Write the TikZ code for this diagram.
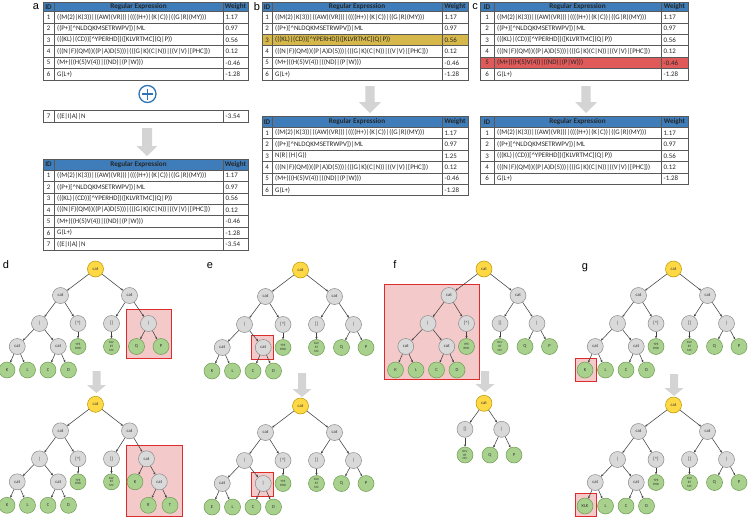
\documentclass[tikz,border=0pt]{standalone}
\usepackage{fontspec}
\setmainfont{Carlito}
\newfontfamily\lblfont{Liberation Sans}
\usetikzlibrary{arrows.meta}
\definecolor{hdr}{HTML}{3F7DBA}
\definecolor{tl}{HTML}{595959}
\definecolor{hlY}{HTML}{D6B84A}
\definecolor{hlR}{HTML}{E05A5A}
\definecolor{gfill}{HTML}{D9D9D9}
\definecolor{gdraw}{HTML}{8C8C8C}
\definecolor{lfill}{HTML}{A9D18E}
\definecolor{ldraw}{HTML}{6F9A52}
\definecolor{yfill}{HTML}{FFD845}
\definecolor{ydraw}{HTML}{B89500}
\definecolor{rbox}{HTML}{DC2C2C}
\definecolor{rfill}{HTML}{F3C9C9}
\definecolor{arr}{HTML}{D4D4D4}
\definecolor{plusc}{HTML}{2E75B6}
\newcommand\reA{((M(2)|K(3))|((AW)(VR)))|((((H+)|(K|C))|((G|R)(MY)))}
\newcommand\reB{((P+)[\textasciicircum NLDQKMSETRWPV])|ML}
\newcommand\reC{(((KL)|(CD))[\textasciicircum YPERHD])([KLVRTMC](Q|P))}
\newcommand\reD{(((N|F)(QM))((P|A)D(5)))|(((G|K)(C|N))|((V|V)|[PHC]))}
\newcommand\reE{(M+)((H(5)V(4))|((ND)|(P|W)))}
\newcommand\reF{G(L+)}
\newcommand\reG{((E|I)A)|N}
\newcommand\reH{N(R|(H|G))}
\tikzset{
 tline/.style={draw=tl, line width=0.5pt},
 hcell/.style={inner sep=0pt, font=\fontsize{7.2}{7.5}\selectfont\bfseries, text=black!85},
 tcell/.style={inner sep=0pt, anchor=west, font=\fontsize{6.9}{7.2}\selectfont, text=black!85},
 icell/.style={inner sep=0pt, font=\fontsize{6.9}{7.2}\selectfont, text=black!85},
 tnode/.style={circle, minimum size=16pt, inner sep=0pt, line width=0.5pt, font=\fontsize{4.6}{5}\selectfont, align=center, text=black!80},
 gn/.style={tnode, fill=gfill, draw=gdraw},
 lf/.style={tnode, fill=lfill, draw=ldraw},
 rt/.style={tnode, fill=yfill, draw=ydraw},
 tinyt/.style={font=\fontsize{3.3}{3.6}\selectfont},
 ed/.style={draw=black!75, line width=0.55pt, -{Stealth[length=2.4pt,width=2.2pt]}},
 redbox/.style={draw=rbox, fill=rfill, line width=0.9pt},
 garr/.style={fill=arr},
 plbl/.style={font=\lblfont\fontsize{11}{12}\selectfont, inner sep=0pt},
}
\newcommand\thead[3]{%
 \draw[tline,fill=hdr] (\xa,#2) rectangle (\xd,#3);
 \draw[tline] (\xb,#2) -- (\xb,#3) (\xc,#2) -- (\xc,#3);
 \node[hcell] (#1i) at ({(\xa+\xb)/2},{(#2+#3)/2}) {ID};
 \node[hcell] (#1r) at ({(\xb+\xc)/2},{(#2+#3)/2}) {Regular Expression};
 \node[hcell] (#1w) at ({(\xc+\xd)/2},{(#2+#3)/2}) {Weight};}
\newcommand\trow[6]{%
 \draw[tline,fill=#6] (\xa,#2) rectangle (\xd,{#2+\rh});
 \draw[tline] (\xb,#2) -- (\xb,{#2+\rh}) (\xc,#2) -- (\xc,{#2+\rh});
 \node[icell] (#1i) at ({(\xa+\xb)/2},{#2+\rh/2}) {#3};
 \node[tcell] (#1r) at ({\xb+3},{#2+\rh/2}) {#4};
 \node[tcell] (#1w) at ({\xc+2.5},{#2+\rh/2}) {#5};}
\newcommand\garrow[6]{%
 \fill[garr] ({#1-#4},#2) -- ({#1+#4},#2) -- ({#1+#4},{#3-#6}) -- ({#1+#5},{#3-#6}) -- (#1,#3) -- ({#1-#5},{#3-#6}) -- ({#1-#4},{#3-#6}) -- cycle;}
\newcommand\lefttree[2]{%
 \node[gn] (a) at (-35,26.5) {cat};
 \node[gn] (a1) at (-56,54.5) {|};
 \node[gn] (a2) at (-17.5,54.5) {[\textasciicircum]};
 \node[gn] (a11) at (-78.25,77.5) {cat};
 \node[gn] (a12) at (-37.25,77.5) {#2};
 \node[lf,tinyt] (a21) at (-17.5,77.5) {YPE\\RHD};
 \node[lf] (a111) at (-88.5,101) {#1};
 \node[lf] (a112) at (-68,101) {L};
 \node[lf] (a121) at (-47.5,101) {C};
 \node[lf] (a122) at (-27,101) {D};
 \draw[ed] (r) -- (a);
 \draw[ed] (a) -- (a1);
 \draw[ed] (a) -- (a2);
 \draw[ed] (a1) -- (a11);
 \draw[ed] (a1) -- (a12);
 \draw[ed] (a2) -- (a21);
 \draw[ed] (a11) -- (a111);
 \draw[ed] (a11) -- (a112);
 \draw[ed] (a12) -- (a121);
 \draw[ed] (a12) -- (a122);}
\newcommand\righttree{%
 \node[gn] (b) at (34,26.5) {cat};
 \node[gn] (b1) at (16,54.5) {[]};
 \node[gn] (b2) at (53,54.5) {|};
 \node[lf,tinyt] (b11) at (16,77.5) {KLV\\RT\\MC};
 \node[lf] (b21) at (41,77.5) {Q};
 \node[lf] (b22) at (65.5,77.5) {P};
 \draw[ed] (r) -- (b);
 \draw[ed] (b) -- (b1);
 \draw[ed] (b) -- (b2);
 \draw[ed] (b1) -- (b11);
 \draw[ed] (b2) -- (b21);
 \draw[ed] (b2) -- (b22);}
\begin{document}
\begin{tikzpicture}[x=1pt,y=-1pt]
\useasboundingbox (0,0) rectangle (748,517);
% ---------- panel labels ----------
\node[plbl] (la) at (36,7) {a};
\node[plbl] (lb) at (257,7) {b};
\node[plbl] (lc) at (475,7) {c};
\node[plbl] (ld) at (6,265) {d};
\node[plbl] (le) at (210,266) {e};
\node[plbl] (lf) at (395,265) {f};
\node[plbl] (lg) at (585,268) {g};
\def\rh{11.4}
% ---------- table a ----------
\def\xa{43}\def\xb{54}\def\xc{223}\def\xd{248}
\thead{ta}{2}{11.5}
\trow{ta1}{11.5}{1}{\reA}{1.17}{white}
\trow{ta2}{22.9}{2}{\reB}{0.97}{white}
\trow{ta3}{34.3}{3}{\reC}{0.56}{white}
\trow{ta4}{45.7}{4}{\reD}{0.12}{white}
\trow{ta5}{57.1}{5}{\reE}{-0.46}{white}
\trow{ta6}{68.5}{6}{\reF}{-1.28}{white}
\node[circle, draw=plusc, line width=1.3pt, minimum size=17pt, inner sep=0pt] (plus) at (147.5,94) {};
\draw[plusc, line width=1.8pt] (plus.center) ++(-5.5,0) -- ++(11,0);
\draw[plusc, line width=1.8pt] (plus.center) ++(0,-5.5) -- ++(0,11);
\trow{tx7}{110.7}{7}{\reG}{-3.54}{white}
\garrow{147}{128}{156}{5}{10.5}{10}
\thead{tb}{159}{170}
\trow{tb1}{170}{1}{\reA}{1.17}{white}
\trow{tb2}{181.4}{2}{\reB}{0.97}{white}
\trow{tb3}{192.8}{3}{\reC}{0.56}{white}
\trow{tb4}{204.2}{4}{\reD}{0.12}{white}
\trow{tb5}{215.6}{5}{\reE}{-0.46}{white}
\trow{tb6}{227}{6}{\reF}{-1.28}{white}
\trow{tb7}{238.4}{7}{\reG}{-3.54}{white}
% ---------- table b ----------
\def\xa{262}\def\xb{272}\def\xc{442}\def\xd{468}
\thead{tc}{2}{11.5}
\trow{tc1}{11.5}{1}{\reA}{1.17}{white}
\trow{tc2}{22.9}{2}{\reB}{0.97}{white}
\trow{tc3}{34.3}{3}{\reC}{0.56}{hlY}
\trow{tc4}{45.7}{4}{\reD}{0.12}{white}
\trow{tc5}{57.1}{5}{\reE}{-0.46}{white}
\trow{tc6}{68.5}{6}{\reF}{-1.28}{white}
\garrow{370}{86}{113}{4.7}{11}{11}
\thead{td}{116.7}{127.3}
\trow{td1}{127.3}{1}{\reA}{1.17}{white}
\trow{td2}{138.7}{2}{\reB}{0.97}{white}
\trow{td3}{150.1}{3}{\reH}{1.25}{white}
\trow{td4}{161.5}{4}{\reD}{0.12}{white}
\trow{td5}{172.9}{5}{\reE}{-0.46}{white}
\trow{td6}{184.3}{6}{\reF}{-1.28}{white}
% ---------- table c ----------
\def\xa{480}\def\xb{494}\def\xc{661}\def\xd{688}
\thead{te}{2}{11.5}
\trow{te1}{11.5}{1}{\reA}{1.17}{white}
\trow{te2}{22.9}{2}{\reB}{0.97}{white}
\trow{te3}{34.3}{3}{\reC}{0.56}{white}
\trow{te4}{45.7}{4}{\reD}{0.12}{white}
\trow{te5}{57.1}{5}{\reE}{-0.46}{hlR}
\trow{te6}{68.5}{6}{\reF}{-1.28}{white}
\garrow{586}{86}{113}{4.7}{11}{11}
\thead{tf}{116.7}{127.3}
\trow{tf1}{127.3}{1}{\reA}{1.17}{white}
\trow{tf2}{138.7}{2}{\reB}{0.97}{white}
\trow{tf3}{150.1}{3}{\reC}{0.56}{white}
\trow{tf4}{161.5}{4}{\reD}{0.12}{white}
\trow{tf5}{172.9}{6}{\reF}{-1.28}{white}
% ---------- red boxes ----------
\draw[redbox] (126.7,309) rectangle (171.7,358.3);
\draw[redbox] (126.7,445.7) rectangle (182.3,516.5);
\draw[redbox] (251,335.7) rectangle (273.3,359);
\draw[redbox] (251,472.7) rectangle (273.3,496);
\draw[redbox] (384.3,284.3) rectangle (479,379.3);
\draw[redbox] (575.7,358.3) rectangle (596.7,381);
\draw[redbox] (575.7,493.3) rectangle (596.7,516.5);
% ---------- gray arrows between trees ----------
\garrow{96.5}{371}{393}{4}{9.5}{8}
\garrow{302}{373}{397}{4}{9.5}{8}
\garrow{485}{371}{392}{4}{9.5}{8}
\garrow{674}{374}{396}{4}{9.5}{8}
% ---------- tree d ----------
\begin{scope}[shift={(95.5,269)}, name prefix=dt-]
 \node[rt] (r) at (0,0) {cat};
 \lefttree{K}{cat}
 \righttree
\end{scope}
\begin{scope}[shift={(95.5,404.3)}, name prefix=db-]
 \node[rt] (r) at (0,0) {cat};
 \lefttree{K}{cat}
 \node[gn] (b) at (34,26.5) {cat};
 \node[gn] (b1) at (16,54.5) {[]};
 \node[gn] (b2) at (51,54.5) {cat};
 \node[lf,tinyt] (b11) at (16,77.5) {KLV\\RT\\MC};
 \node[lf] (b21) at (39.5,77.5) {K};
 \node[gn] (b22) at (63.8,77.5) {cat};
 \node[lf] (b221) at (52.8,101) {R};
 \node[lf] (b222) at (74.5,101) {T};
 \draw[ed] (r) -- (b);
 \draw[ed] (b) -- (b1);
 \draw[ed] (b) -- (b2);
 \draw[ed] (b1) -- (b11);
 \draw[ed] (b2) -- (b21);
 \draw[ed] (b2) -- (b22);
 \draw[ed] (b22) -- (b221);
 \draw[ed] (b22) -- (b222);
\end{scope}
% ---------- tree e ----------
\begin{scope}[shift={(300.5,270)}, name prefix=et-]
 \node[rt] (r) at (0,0) {cat};
 \lefttree{K}{cat}
 \righttree
\end{scope}
\begin{scope}[shift={(300.5,406)}, name prefix=eb-]
 \node[rt] (r) at (0,0) {cat};
 \lefttree{E}{|}
 \righttree
\end{scope}
% ---------- tree f ----------
\begin{scope}[shift={(484,269)}, name prefix=ft-]
 \node[rt] (r) at (0,0) {cat};
 \lefttree{K}{cat}
 \righttree
\end{scope}
\begin{scope}[shift={(484,403.3)}, name prefix=fb-]
 \node[rt] (r) at (0,0) {cat};
 \node[gn] (b1) at (-19,26) {[]};
 \node[gn] (b2) at (17.7,26) {|};
 \node[lf,tinyt] (b11) at (-19,51.7) {KLV\\RT\\MC};
 \node[lf] (b21) at (6,51.7) {Q};
 \node[lf] (b22) at (30,51.7) {P};
 \draw[ed] (r) -- (b1);
 \draw[ed] (r) -- (b2);
 \draw[ed] (b1) -- (b11);
 \draw[ed] (b2) -- (b21);
 \draw[ed] (b2) -- (b22);
\end{scope}
% ---------- tree g ----------
\begin{scope}[shift={(673.5,269)}, name prefix=gt-]
 \node[rt] (r) at (0,0) {cat};
 \lefttree{K}{cat}
 \righttree
\end{scope}
\begin{scope}[shift={(673.5,405)}, name prefix=gb-]
 \node[rt] (r) at (0,0) {cat};
 \lefttree{KLK}{cat}
 \righttree
\end{scope}
\end{tikzpicture}
\end{document}
